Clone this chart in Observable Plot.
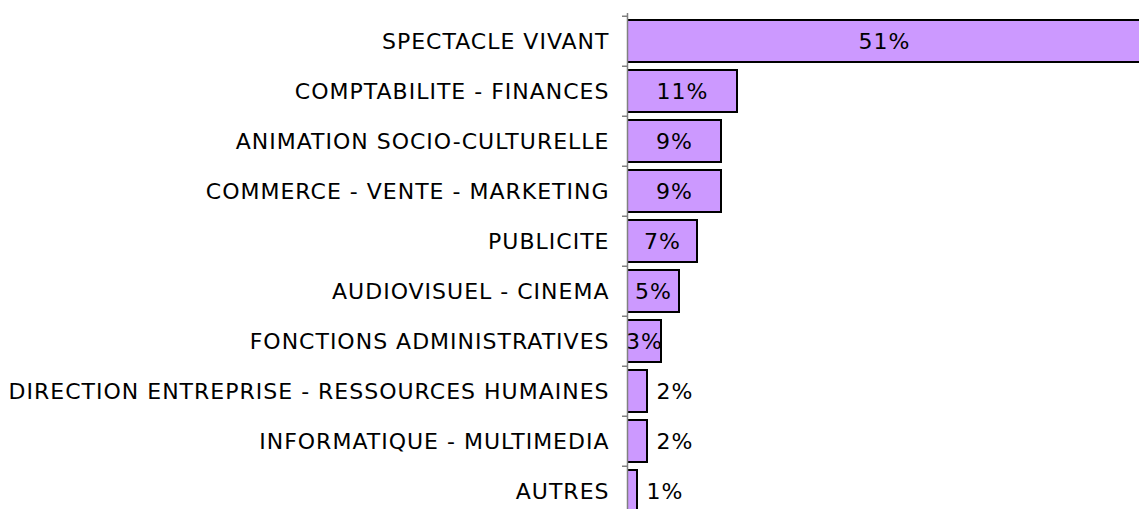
<!DOCTYPE html>
<html>
<head>
<meta charset="utf-8">
<script src="https://cdn.jsdelivr.net/npm/d3@7"></script>
<script src="https://cdn.jsdelivr.net/npm/@observablehq/plot@0.6"></script>
<style>
  html, body { margin: 0; padding: 0; background: #fff; overflow: hidden; }
  svg text { letter-spacing: 1px; }
</style>
</head>
<body>
<div id="chart"></div>
<script>
const categories = [
  "SPECTACLE VIVANT",
  "COMPTABILITE - FINANCES",
  "ANIMATION SOCIO-CULTURELLE",
  "COMMERCE - VENTE - MARKETING",
  "PUBLICITE",
  "AUDIOVISUEL - CINEMA",
  "FONCTIONS ADMINISTRATIVES",
  "DIRECTION ENTREPRISE - RESSOURCES HUMAINES",
  "INFORMATIQUE - MULTIMEDIA",
  "AUTRES"
];
const values = [51.4, 11.0, 9.4, 9.4, 7.0, 5.2, 3.4, 2.0, 2.0, 1.0];
const valueLabels = ["51%", "11%", "9%", "9%", "7%", "5%", "3%", "2%", "2%", "1%"];

const data = categories.map((c, i) => ({cat: c, value: values[i], label: valueLabels[i]}));
const FS = 22;

const chart = Plot.plot({
  width: 1139,
  height: 509,
  marginLeft: 627,
  marginRight: 0,
  marginTop: 13,
  marginBottom: 0,
  style: {fontFamily: "'DejaVu Sans', Verdana, sans-serif", background: "#fff", color: "#000"},
  x: {domain: [0, 51.2], axis: null, label: null},
  y: {domain: categories, range: [13, 518], padding: 0, axis: null, label: null},
  marks: [
    Plot.barX(data, {x: "value", y: "cat", fill: "#CC99FF", stroke: "#000", strokeWidth: 2, insetTop: 4, insetBottom: 4, clip: true}),
    Plot.text(data.filter(d => d.value >= 3), {x: d => d.value / 2, y: "cat", text: "label", fontSize: FS, fill: "#000"}),
    Plot.text(data.filter(d => d.value < 3), {x: "value", y: "cat", text: "label", fontSize: FS, fill: "#000", textAnchor: "start", dx: 9}),
    Plot.ruleX([0], {stroke: "#808080", strokeWidth: 1.5}),
    Plot.axisY({anchor: "left", label: null, tickSize: 5, dy: -25.25, tickFormat: () => "", stroke: "#808080", strokeWidth: 1.5}),
    Plot.axisY({anchor: "left", label: null, tickSize: 0, tickPadding: 18, fontSize: FS, fill: "#000"})
  ]
});
document.getElementById("chart").appendChild(chart);
</script>
</body>
</html>
